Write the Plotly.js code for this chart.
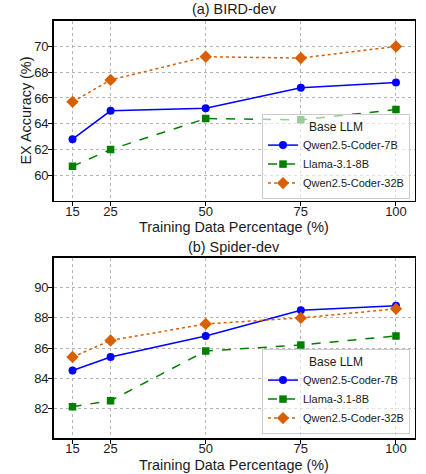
<!DOCTYPE html>
<html>
<head>
<meta charset="utf-8">
<script src="https://cdn.plot.ly/plotly-3.0.1.min.js"></script>
<style>html,body{margin:0;padding:0;background:#fff;}#chart{width:426px;height:474px;}</style>
</head>
<body>
<div id="chart"></div>
<script>
// Data
const xPercent = [15, 25, 50, 75, 100];
const seriesNames = ["Qwen2.5-Coder-7B", "Llama-3.1-8B", "Qwen2.5-Coder-32B"];

const birdQwen7B  = [62.8, 65.0, 65.2, 66.8, 67.2];
const birdLlama8B = [60.7, 62.0, 64.4, 64.3, 65.1];
const birdQwen32B = [65.7, 67.4, 69.2, 69.1, 70.0];

const spiderQwen7B  = [84.5, 85.4, 86.8, 88.5, 88.8];
const spiderLlama8B = [82.1, 82.5, 85.8, 86.2, 86.8];
const spiderQwen32B = [85.4, 86.5, 87.6, 88.0, 88.6];

const birdYTicks = [60, 62, 64, 66, 68, 70];
const spiderYTicks = [82, 84, 86, 88, 90];

const titleA = "(a) BIRD-dev";
const titleB = "(b) Spider-dev";
const xTitle = "Training Data Percentage (%)";
const yTitle = "EX Accuracy (%)";
const legendTitle = "Base LLM";

const colors = ["#0000ff", "#008000", "#d95f02"];
const dashes = ["solid", "dash", "dot"];
const symbols = ["circle", "square", "diamond"];
const sizes = [8, 7.5, 9.5];

const FONT = "Arial, 'Liberation Sans', Helvetica, sans-serif";
const TXT = "#1a1a1a";

function mk(y, i, xa, ya, leg) {
  return {
    x: xPercent, y: y, name: seriesNames[i], type: "scatter", mode: "lines+markers",
    xaxis: xa, yaxis: ya, legend: leg,
    line: {color: colors[i], width: 1.5, dash: dashes[i]},
    marker: {color: colors[i], symbol: symbols[i], size: sizes[i], line: {width: 0}}
  };
}

const traces = [
  mk(birdQwen7B, 0, "x", "y", "legend"),
  mk(birdLlama8B, 1, "x", "y", "legend"),
  mk(birdQwen32B, 2, "x", "y", "legend"),
  mk(spiderQwen7B, 0, "x2", "y2", "legend2"),
  mk(spiderLlama8B, 1, "x2", "y2", "legend2"),
  mk(spiderQwen32B, 2, "x2", "y2", "legend2")
];

const xDom = [53.5/426, 415/426];
const xMid = (53.5 + 415) / 2 / 426;
const axCommon = {
  showline: true, mirror: true, linecolor: "#000", linewidth: 1.3,
  ticks: "outside", ticklen: 4, tickcolor: "#000", tickwidth: 1,
  showgrid: true, gridcolor: "#b4b4b4", griddash: "dot", gridwidth: 1,
  zeroline: false, tickfont: {size: 13, color: TXT, family: FONT}
};

const legCommon = {
  title: {text: legendTitle, side: "top center", font: {size: 12, color: TXT, family: FONT}},
  font: {size: 11, color: TXT, family: FONT},
  bgcolor: "rgba(255,255,255,0.6)", bordercolor: "#cccccc", borderwidth: 1,
  xanchor: "right", yanchor: "bottom", tracegroupgap: 0
};

function ann(text, x, yPx, extra) {
  return Object.assign({text: text, xref: "paper", yref: "paper", x: x, y: 1 - yPx/474,
    xanchor: "center", yanchor: "middle", showarrow: false,
    font: {size: 14.4, color: TXT, family: FONT}}, extra || {});
}

const layout = {
  width: 426, height: 474,
  margin: {l: 0, r: 0, t: 0, b: 0},
  paper_bgcolor: "#fff", plot_bgcolor: "#fff",
  font: {family: FONT, color: TXT},
  showlegend: true,
  xaxis: Object.assign({}, axCommon, {
    domain: xDom, range: [10, 105], tickvals: xPercent, anchor: "y", ticklabelstandoff: -6
  }),
  yaxis: Object.assign({}, axCommon, {
    domain: [1 - 201/474, 1 - 20.7/474], range: [58, 72], tickvals: birdYTicks, anchor: "x", ticklabelstandoff: -3
  }),
  xaxis2: Object.assign({}, axCommon, {
    domain: xDom, range: [10, 105], tickvals: xPercent, anchor: "y2", ticklabelstandoff: -6
  }),
  yaxis2: Object.assign({}, axCommon, {
    domain: [1 - 438.3/474, 1 - 257.7/474], range: [80, 92], tickvals: spiderYTicks, anchor: "x2", ticklabelstandoff: -3
  }),
  legend: Object.assign({}, legCommon, {x: 410/426, y: 1 - 199/474}),
  legend2: Object.assign({}, legCommon, {x: 410/426, y: 1 - 434/474}),
  annotations: [
    ann(titleA, xMid, 9),
    ann(titleB, xMid, 247),
    ann(xTitle, xMid, 227),
    ann(xTitle, xMid, 464.5),
    ann(yTitle, 25.5/426, 111, {textangle: -90})
  ]
};

Plotly.newPlot("chart", traces, layout, {displayModeBar: false, staticPlot: true});
</script>
</body>
</html>
